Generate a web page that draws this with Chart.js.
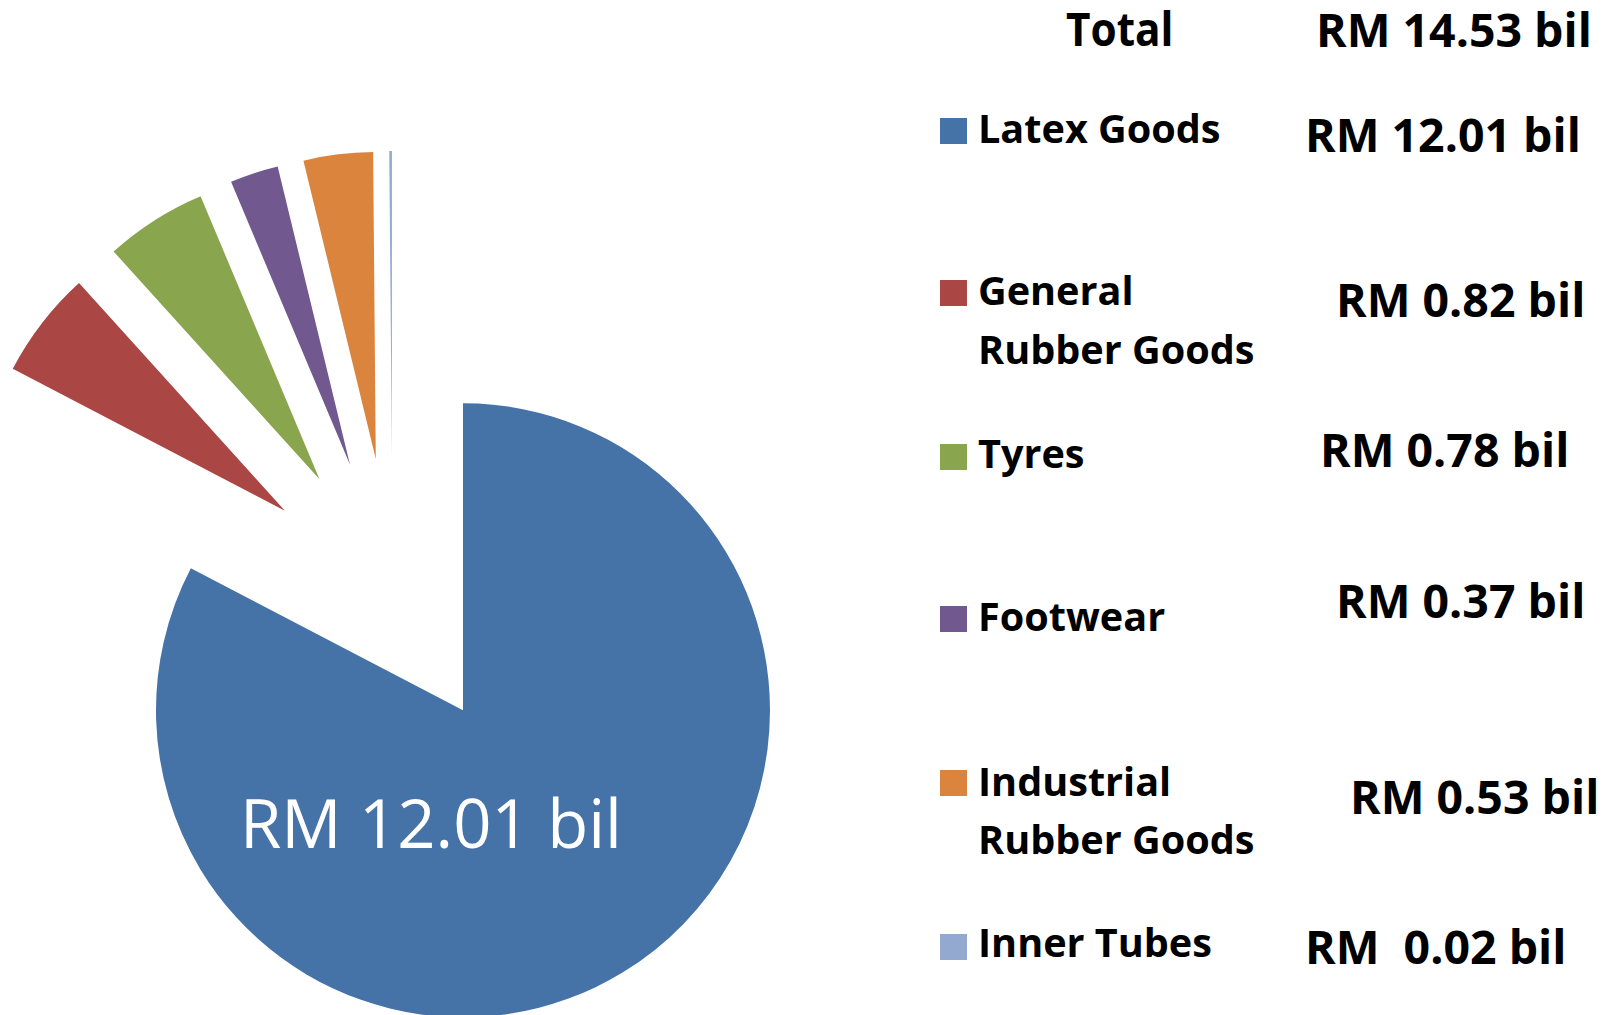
<!DOCTYPE html>
<html>
<head>
<meta charset="utf-8">
<script src="https://cdn.jsdelivr.net/npm/chart.js@4/dist/chart.umd.min.js"></script>
<style>
  body { margin: 0; background: #fff; overflow: hidden; }
  #pieBox { position: absolute; left: 0; top: 0; width: 785px; height: 1015px; }
  .txt { position: absolute; font-family: "Open Sans", sans-serif; font-weight: 700; color: #000;
         line-height: 1; white-space: pre; transform-origin: 0 0; }
  .sq { position: absolute; width: 27px; height: 26px; }
</style>
</head>
<body>
<div id="pieBox"><canvas id="grafico"></canvas></div>
<div id="leyenda"></div>

<script>
// Datos: exportaciones de productos de caucho (RM mil millones)
const categorias = ['Latex Goods', 'General Rubber Goods', 'Tyres', 'Footwear', 'Industrial Rubber Goods', 'Inner Tubes'];
const lineas = [['Latex Goods'], ['General', 'Rubber Goods'], ['Tyres'], ['Footwear'], ['Industrial', 'Rubber Goods'], ['Inner Tubes']];
const valores = [12.01, 0.82, 0.78, 0.37, 0.53, 0.02];
const colores = ['#4572A7', '#AA4643', '#89A54E', '#71588F', '#DB843D', '#93A9CF'];

const EXPLOSION = 136;

function formato(v, espacios) {
  return 'RM' + ' '.repeat(espacios || 1) + v.toFixed(2) + ' bil';
}

// Porciones separadas del centro
const separar = {
  id: 'separar',
  beforeDatasetDraw(chart, args) {
    const ctx = chart.ctx;
    args.meta.data.forEach(arc => {
      const mid = (arc.startAngle + arc.endAngle) / 2;
      ctx.save();
      ctx.translate(Math.cos(mid) * EXPLOSION, Math.sin(mid) * EXPLOSION);
      arc.draw(ctx);
      ctx.restore();
    });
    return false;
  }
};

// Etiqueta dentro de la porción grande
const etiqueta = {
  id: 'etiqueta',
  afterDraw(chart) {
    const arc = chart.getDatasetMeta(0).data[0];
    const mid = (arc.startAngle + arc.endAngle) / 2;
    const x = arc.x + Math.cos(mid) * EXPLOSION - 32;
    const y = arc.y + Math.sin(mid) * EXPLOSION + 138;
    const ctx = chart.ctx;
    ctx.save();
    ctx.fillStyle = '#fff';
    ctx.font = '400 67px "Open Sans"';
    ctx.textAlign = 'center';
    ctx.textBaseline = 'alphabetic';
    ctx.fillText(formato(valores[0]), x, y);
    ctx.restore();
  }
};

const ctx = document.getElementById('grafico').getContext('2d');
new Chart(ctx, {
  type: 'pie',
  data: {
    labels: categorias,
    datasets: [{
      data: valores,
      backgroundColor: colores,
      borderWidth: 0
    }]
  },
  options: {
    responsive: true,
    maintainAspectRatio: false,
    animation: false,
    radius: 307,
    layout: { padding: { top: 173 } },
    plugins: {
      legend: { display: false },
      tooltip: { enabled: false }
    }
  },
  plugins: [separar, etiqueta]
});

// Leyenda con valores
const leyenda = document.getElementById('leyenda');
function texto(str, x, base, size, escala) {
  const d = document.createElement('div');
  d.className = 'txt';
  d.textContent = str;
  d.style.fontSize = size + 'px';
  d.style.left = x + 'px';
  d.style.top = (base - 0.888 * size) + 'px';
  if (escala) d.style.transform = 'scaleX(' + escala + ')';
  leyenda.appendChild(d);
  return d;
}

const total = valores.reduce((a, b) => a + b, 0);
texto('Total', 1066, 47, 47, 0.9);
texto(formato(total), 1316, 47, 46, 1.01);

const filas = [
  { cuadro: 118, bases: [144], vx: 1305, vb: 152 },
  { cuadro: 280, bases: [306, 365], vx: 1336, vb: 317 },
  { cuadro: 444, bases: [469], vx: 1320, vb: 467 },
  { cuadro: 606, bases: [632], vx: 1336, vb: 618 },
  { cuadro: 770, bases: [797, 855], vx: 1350, vb: 814 },
  { cuadro: 934, bases: [958], vx: 1305, vb: 964, espacios: 2 }
];

filas.forEach((f, i) => {
  const sq = document.createElement('div');
  sq.className = 'sq';
  sq.style.left = '940px';
  sq.style.top = f.cuadro + 'px';
  sq.style.background = colores[i];
  leyenda.appendChild(sq);
  lineas[i].forEach((l, j) => texto(l, 978, f.bases[j], 40, 0.99));
  texto(formato(valores[i], f.espacios), f.vx, f.vb, 46, 1.01);
});
</script>
</body>
</html>
